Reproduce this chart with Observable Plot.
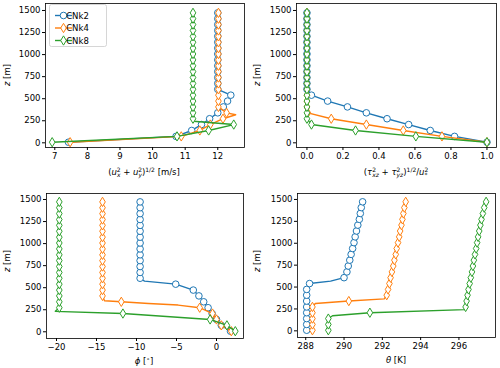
<!DOCTYPE html>
<html><head><meta charset="utf-8">
<script src="https://cdn.jsdelivr.net/npm/d3@7"></script>
<script src="https://cdn.jsdelivr.net/npm/@observablehq/plot@0.6"></script>
<style>
html,body{margin:0;padding:0;background:#fff;}
#chart{position:relative;width:500px;height:368px;font-family:"DejaVu Sans",sans-serif;background:#fff;}
#chart > svg{position:absolute;}
</style></head><body><div id="chart"></div>
<script>
const seriesNames = ["CNk2", "CNk4", "CNk8"];
const colors = ["#1f77b4", "#ff7f0e", "#2ca02c"];

// heights of the plotted (marked) levels [m]
const zMarkers = [7, 73, 140, 207, 273, 340, 407, 473, 540, 607, 673, 740, 807, 873, 940, 1007, 1073, 1140, 1207, 1273, 1340, 1407, 1473];

// Panel a: wind speed (u_x^2+u_y^2)^(1/2) [m/s]
const speedK2 = [7.42, 10.72, 11.2, 11.5, 11.75, 12.0, 12.17, 12.3, 12.4, 12.0, 12.0, 12.0, 12.0, 12.0, 12.0, 12.0, 12.0, 12.0, 12.0, 12.0, 12.0, 12.0, 12.0];
const speedK4 = [7.47, 10.88, 11.45, 11.77, 12.16, 12.27, 12.02, 12.02, 12.02, 12.02, 12.02, 12.02, 12.02, 12.02, 12.02, 12.02, 12.02, 12.02, 12.02, 12.02, 12.02, 12.02, 12.02];
const speedK8 = [6.92, 10.75, 11.72, 12.49, 11.24, 11.24, 11.24, 11.24, 11.24, 11.24, 11.24, 11.24, 11.24, 11.24, 11.24, 11.24, 11.24, 11.24, 11.24, 11.24, 11.24, 11.24, 11.24];
// extra line vertices between marked levels [value, z]
const speedLineK2 = [];
const speedLineK4 = [[12.55, 318]];
const speedLineK8 = [[11.25, 245]];

// Panel b: normalised stress
const stressK2 = [1.0, 0.82, 0.685, 0.565, 0.445, 0.33, 0.225, 0.115, 0.025, 0, 0, 0, 0, 0, 0, 0, 0, 0, 0, 0, 0, 0, 0];
const stressK4 = [1.0, 0.75, 0.535, 0.33, 0.135, 0.005, 0, 0, 0, 0, 0, 0, 0, 0, 0, 0, 0, 0, 0, 0, 0, 0, 0];
const stressK8 = [1.0, 0.605, 0.27, 0.025, 0, 0, 0, 0, 0, 0, 0, 0, 0, 0, 0, 0, 0, 0, 0, 0, 0, 0, 0];
const stressLineK2 = [];
const stressLineK4 = [];
const stressLineK8 = [];

// Panel c: wind direction phi [deg]
const phiK2 = [1.75, 0.6, 0.0, -0.55, -1.05, -1.6, -2.2, -2.9, -5.1, -9.55, -9.55, -9.55, -9.55, -9.55, -9.55, -9.55, -9.55, -9.55, -9.55, -9.55, -9.55, -9.55, -9.55];
const phiK4 = [1.85, 0.6, 0.0, -0.5, -2.1, -11.9, -14.25, -14.25, -14.25, -14.25, -14.25, -14.25, -14.25, -14.25, -14.25, -14.25, -14.25, -14.25, -14.25, -14.25, -14.25, -14.25, -14.25];
const phiK8 = [2.35, 1.3, -0.8, -11.7, -19.65, -19.65, -19.65, -19.65, -19.65, -19.65, -19.65, -19.65, -19.65, -19.65, -19.65, -19.65, -19.65, -19.65, -19.65, -19.65, -19.65, -19.65, -19.65];
const phiLineK2 = [[-9.0, 575]];
const phiLineK4 = [[-4.8, 303], [-8.5, 320], [-14.0, 352]];
const phiLineK8 = [[-20.15, 232]];

// Panel d: potential temperature theta [K]
const thetaK2 = [288.05, 288.05, 288.05, 288.05, 288.05, 288.05, 288.05, 288.05, 288.2, 290.0, 290.15, 290.22, 290.3, 290.37, 290.45, 290.52, 290.58, 290.65, 290.72, 290.8, 290.85, 290.9, 290.97];
const thetaK4 = [288.35, 288.35, 288.35, 288.35, 288.35, 290.25, 292.23, 292.3, 292.37, 292.43, 292.5, 292.57, 292.63, 292.7, 292.75, 292.82, 292.88, 292.93, 293.0, 293.05, 293.1, 293.15, 293.22];
const thetaK8 = [289.18, 289.18, 289.18, 291.35, 296.35, 296.4, 296.45, 296.5, 296.56, 296.62, 296.68, 296.73, 296.78, 296.84, 296.9, 296.95, 297.0, 297.06, 297.12, 297.18, 297.25, 297.32, 297.42];
const thetaLineK2 = [[289.3, 568]];
const thetaLineK4 = [[288.5, 312], [292.1, 365]];
const thetaLineK8 = [[289.4, 172], [296.3, 242]];

const yTicks = [0, 250, 500, 750, 1000, 1250, 1500];
const speedTicks = [7, 8, 9, 10, 11, 12];
const stressTicks = [0, 0.2, 0.4, 0.6, 0.8, 1.0];
const phiTicks = [-20, -15, -10, -5, 0];
const thetaTicks = [288, 290, 292, 294, 296];

const FS = 8.5;
const R = 3.3;

const thinDiamond = {
  draw(ctx, size) {
    const r = Math.sqrt(size / Math.PI);
    const h = r * 1.41, w = r * 0.85;
    ctx.moveTo(0, -h); ctx.lineTo(w, 0); ctx.lineTo(0, h); ctx.lineTo(-w, 0); ctx.closePath();
  }
};
const symbols = ["circle", thinDiamond, thinDiamond];

function markerTable(vals) { return vals.map((v, i) => ({v, z: zMarkers[i]})); }
function lineTable(vals, extra) {
  return markerTable(vals).concat(extra.map(([v, z]) => ({v, z}))).sort((a, b) => a.z - b.z);
}

function mathText(g, x, y, parts, rotate) {
  const t = g.append("text").attr("text-anchor", "middle").attr("font-size", FS)
    .attr("font-family", "DejaVu Sans").attr("fill", "#000");
  if (rotate) t.attr("transform", `translate(${x},${y}) rotate(-90)`);
  else t.attr("x", x).attr("y", y);
  let cur = 0;
  for (const p of parts) {
    const ts = t.append("tspan").text(p.t);
    if (p.it) ts.attr("font-style", "italic");
    const shift = p.sup ? -3.3 : p.sub ? 2.3 : 0;
    const dy = shift - cur;
    if (dy) ts.attr("dy", dy);
    cur = shift;
    if (p.sup || p.sub) ts.attr("font-size", 6);
    if (p.dx) ts.attr("dx", p.dx);
  }
}

function panel(o) {
  const marks = [];
  o.series.forEach((s, i) => {
    marks.push(Plot.line(lineTable(s.vals, s.extra), {x: "v", y: "z", stroke: colors[i], strokeWidth: 1.4}));
    marks.push(Plot.dot(markerTable(s.vals), {x: "v", y: "z", r: R, stroke: colors[i], strokeWidth: 1, fill: "white", symbol: symbols[i]}));
  });
  marks.push(Plot.frame({stroke: "#000", strokeWidth: 0.8}));
  marks.push(Plot.axisX({ticks: o.xTicks, tickFormat: o.xFormat, tickSize: 3, tickPadding: 2, fontSize: FS, label: null}));
  marks.push(Plot.axisY({ticks: yTicks, tickFormat: d3.format("d"), tickSize: 3, tickPadding: 2, fontSize: FS, label: null}));
  const svg = Plot.plot({
    width: 250, height: 184,
    marginLeft: o.m[0], marginRight: o.m[1], marginTop: o.m[2], marginBottom: o.m[3],
    x: {domain: o.xDomain},
    y: {domain: o.yDomain},
    style: {fontFamily: "DejaVu Sans", fontSize: FS + "px", color: "#000", background: "transparent", overflow: "visible"},
    marks
  });
  svg.style.left = o.left + "px";
  svg.style.top = o.top + "px";
  const g = d3.select(svg).append("g");
  mathText(g, o.xl[0], o.xl[1], o.xLabel, false);
  mathText(g, o.yl[0], o.yl[1], [{t: "z", it: true}, {t: " [m]"}], true);
  document.getElementById("chart").appendChild(svg);
  return g;
}

const g1 = panel({
  left: 0, top: 0, m: [45, 6, 3, 37],
  xDomain: [6.715, 12.82], yDomain: [-53, 1579], xTicks: speedTicks, xFormat: d3.format("d"),
  series: [{vals: speedK2, extra: speedLineK2}, {vals: speedK4, extra: speedLineK4}, {vals: speedK8, extra: speedLineK8}],
  xl: [144, 175], yl: [10, 75],
  xLabel: [{t: "("}, {t: "u", it: true}, {t: "2", sup: true}, {t: "x", sub: true, it: true, dx: -3.8}, {t: " + "},
           {t: "u", it: true}, {t: "2", sup: true}, {t: "y", sub: true, it: true, dx: -3.8}, {t: ")"}, {t: "1/2", sup: true}, {t: " [m/s]"}]
});
panel({
  left: 250, top: 0, m: [46, 4, 3, 37],
  xDomain: [-0.058, 1.053], yDomain: [-53, 1579], xTicks: stressTicks, xFormat: d3.format(".1f"),
  series: [{vals: stressK2, extra: stressLineK2}, {vals: stressK4, extra: stressLineK4}, {vals: stressK8, extra: stressLineK8}],
  xl: [146, 175], yl: [10, 75],
  xLabel: [{t: "("}, {t: "τ", it: true}, {t: "2", sup: true}, {t: "xz", sub: true, it: true, dx: -3.8}, {t: " + "},
           {t: "τ", it: true}, {t: "2", sup: true}, {t: "yz", sub: true, it: true, dx: -3.8}, {t: ")"}, {t: "1/2", sup: true},
           {t: "/"}, {t: "u", it: true}, {t: "2", sup: true}, {t: "*", sub: true, dx: -3.8}]
});
panel({
  left: 0, top: 184, m: [46, 7, 9, 30],
  xDomain: [-21.25, 3.375], yDomain: [-76, 1568], xTicks: phiTicks, xFormat: d3.format("d"),
  series: [{vals: phiK2, extra: phiLineK2}, {vals: phiK4, extra: phiLineK4}, {vals: phiK8, extra: phiLineK8}],
  xl: [144, 180], yl: [10, 77],
  xLabel: [{t: "ϕ", it: true}, {t: " ["}, {t: "∘", sup: true}, {t: "]"}]
});
panel({
  left: 250, top: 184, m: [47, 5, 9, 31],
  xDomain: [287.57, 297.91], yDomain: [-76, 1568], xTicks: thetaTicks, xFormat: d3.format("d"),
  series: [{vals: thetaK2, extra: thetaLineK2}, {vals: thetaK4, extra: thetaLineK4}, {vals: thetaK8, extra: thetaLineK8}],
  xl: [146, 179], yl: [10, 77],
  xLabel: [{t: "θ", it: true}, {t: " [K]"}]
});

// legend in the first panel
{
  const lg = g1.append("g");
  lg.append("rect").attr("x", 49.5).attr("y", 4.5).attr("width", 57).attr("height", 42).attr("rx", 2)
    .attr("fill", "white").attr("fill-opacity", 0.8).attr("stroke", "#cccccc").attr("stroke-width", 0.8);
  const ys = [15.5, 28, 40.5];
  seriesNames.forEach((name, i) => {
    const y = ys[i];
    lg.append("line").attr("x1", 55).attr("x2", 72).attr("y1", y).attr("y2", y).attr("stroke", colors[i]).attr("stroke-width", 1.4);
    if (i === 0) {
      lg.append("circle").attr("cx", 63.5).attr("cy", y).attr("r", R).attr("fill", "white").attr("stroke", colors[i]);
    } else {
      lg.append("path").attr("d", `M63.5,${y - R * 1.41}L${63.5 + R * 0.85},${y}L63.5,${y + R * 1.41}L${63.5 - R * 0.85},${y}Z`).attr("fill", "white").attr("stroke", colors[i]);
    }
    lg.append("text").attr("x", 77.5).attr("y", y + 3).attr("font-size", FS).attr("font-family", "DejaVu Sans").text(name);
  });
}
</script></body></html>
